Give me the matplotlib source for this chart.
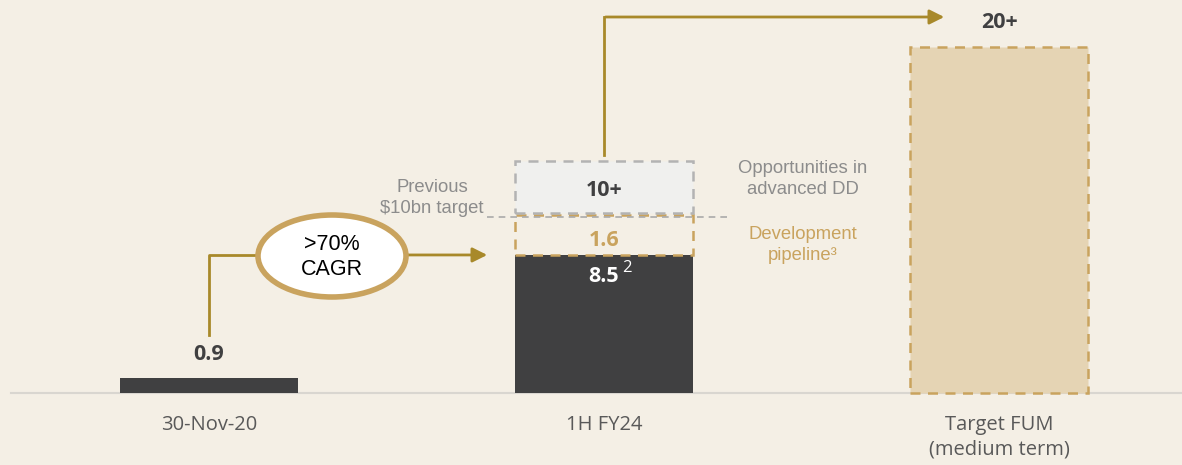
import matplotlib.pyplot as plt
from matplotlib.patches import Ellipse, Rectangle

bg = '#F4EFE5'
dark = '#404041'
gold = '#A8892A'
tan = '#C9A35E'
grey = '#8C8C8C'

categories = ['30-Nov-20', '1H FY24', 'Target FUM\n(medium term)']
fum = [0.9, 8.5, 21.3]           # drawn bar heights ($bn)
bar_labels = ['0.9', '8.5', '20+']
pipeline = 2.46                  # development pipeline segment (label 1.6)
dd_bottom, dd_top = 11.08, 14.29  # opportunities in advanced DD (label 10+)
prev_target = 10.84

W, H = 1182, 465
fig = plt.figure(figsize=(W / 100, H / 100), dpi=100)
fig.patch.set_facecolor(bg)
ax = fig.add_axes([0, 0, 1, 1])
ax.set_facecolor(bg)
ppx = 395.0
ppy = 16.24
ax.set_xlim(-209 / ppx, (W - 209) / ppx)
ax.set_ylim(-(H - 393) / ppy, 393 / ppy)
ax.axis('off')

plt.rcParams['font.family'] = ['Open Sans', 'DejaVu Sans']
bw = 178 / ppx


def py(p):
    # pixel row -> data y
    return (393 - p) / ppy


def px(p):
    return (p - 209) / ppx


# baseline
ax.plot([px(11), px(W)], [0, 0], color='#D9D6D0', lw=1.5, zorder=1)

# bars
ax.bar(0, fum[0], width=bw, color=dark, zorder=2)
ax.bar(1, fum[1], width=bw, color=dark, zorder=2)
ax.add_patch(Rectangle((2 - bw / 2, 0), bw, fum[2], facecolor='#E5D4B4',
                       edgecolor=tan, lw=1.8, ls=(0, (4, 3)), zorder=2))
ax.add_patch(Rectangle((1 - bw / 2, fum[1]), bw, pipeline, facecolor='none',
                       edgecolor=tan, lw=1.8, ls=(0, (4, 3)), zorder=2))
ax.add_patch(Rectangle((1 - bw / 2, dd_bottom), bw, dd_top - dd_bottom, facecolor='#F0F0EE',
                       edgecolor='#B3B3B3', lw=1.8, ls=(0, (4, 3)), zorder=2))
ax.plot([px(487), px(727)], [prev_target, prev_target],
        color='#AAAAAA', lw=1.2, ls=(0, (4, 3)), zorder=3)

# value labels
ax.text(0, py(355), bar_labels[0], ha='center', va='center', fontsize=15.5, weight='bold', color=dark)
ax.text(1, py(277), bar_labels[1], ha='center', va='center', fontsize=15.5, weight='bold', color='white')
ax.text(px(627), py(268), '2', ha='center', va='center', fontsize=12, color='white')
ax.text(1, py(241), '1.6', ha='center', va='center', fontsize=15.5, weight='bold', color=tan)
ax.text(1, py(191), '10+', ha='center', va='center', fontsize=15.5, weight='bold', color=dark)
ax.text(2, py(23), bar_labels[2], ha='center', va='center', fontsize=15.5, weight='bold', color=dark)

# side annotations
ax.text(px(432), py(198), 'Previous\n$10bn target', ha='center', va='center',
        fontsize=13.3, color=grey, family='Liberation Sans', linespacing=1.3)
ax.text(px(803), py(179), 'Opportunities in\nadvanced DD', ha='center', va='center',
        fontsize=13.3, color=grey, family='Liberation Sans', linespacing=1.3)
ax.text(px(803), py(245), 'Development\npipeline\u00b3', ha='center', va='center',
        fontsize=13.3, color=tan, family='Liberation Sans', linespacing=1.3)

# CAGR arrow with ellipse
y_c = fum[1]
ex = px(332)
ax.plot([0, 0, ex], [py(335), y_c, y_c], color=gold, lw=2, zorder=3)
ax.annotate('', xy=(px(490), y_c), xytext=(ex, y_c),
            arrowprops=dict(arrowstyle='-|>', color=gold, lw=2, mutation_scale=22), zorder=3)
ax.add_patch(Ellipse((ex, py(256)), 148 / ppx, 82 / ppy, facecolor='white',
                     edgecolor=tan, lw=4, zorder=4))
ax.text(ex, py(257), '>70%\nCAGR', ha='center', va='center', fontsize=15.5,
        color='black', family='Liberation Sans', linespacing=1.2, zorder=5)

# arrow to target
y_t = py(17)
ax.plot([1, 1], [py(155), y_t], color=gold, lw=2, zorder=3)
ax.annotate('', xy=(px(947), y_t), xytext=(1 - 0.003, y_t),
            arrowprops=dict(arrowstyle='-|>', color=gold, lw=2, mutation_scale=22), zorder=3)

# category labels
for i, c in enumerate(categories):
    ax.text(i, py(415), c, ha='center', va='top', fontsize=14.5, color='#595959', linespacing=1.3)

fig.savefig('out.png', dpi=100, facecolor=bg)
